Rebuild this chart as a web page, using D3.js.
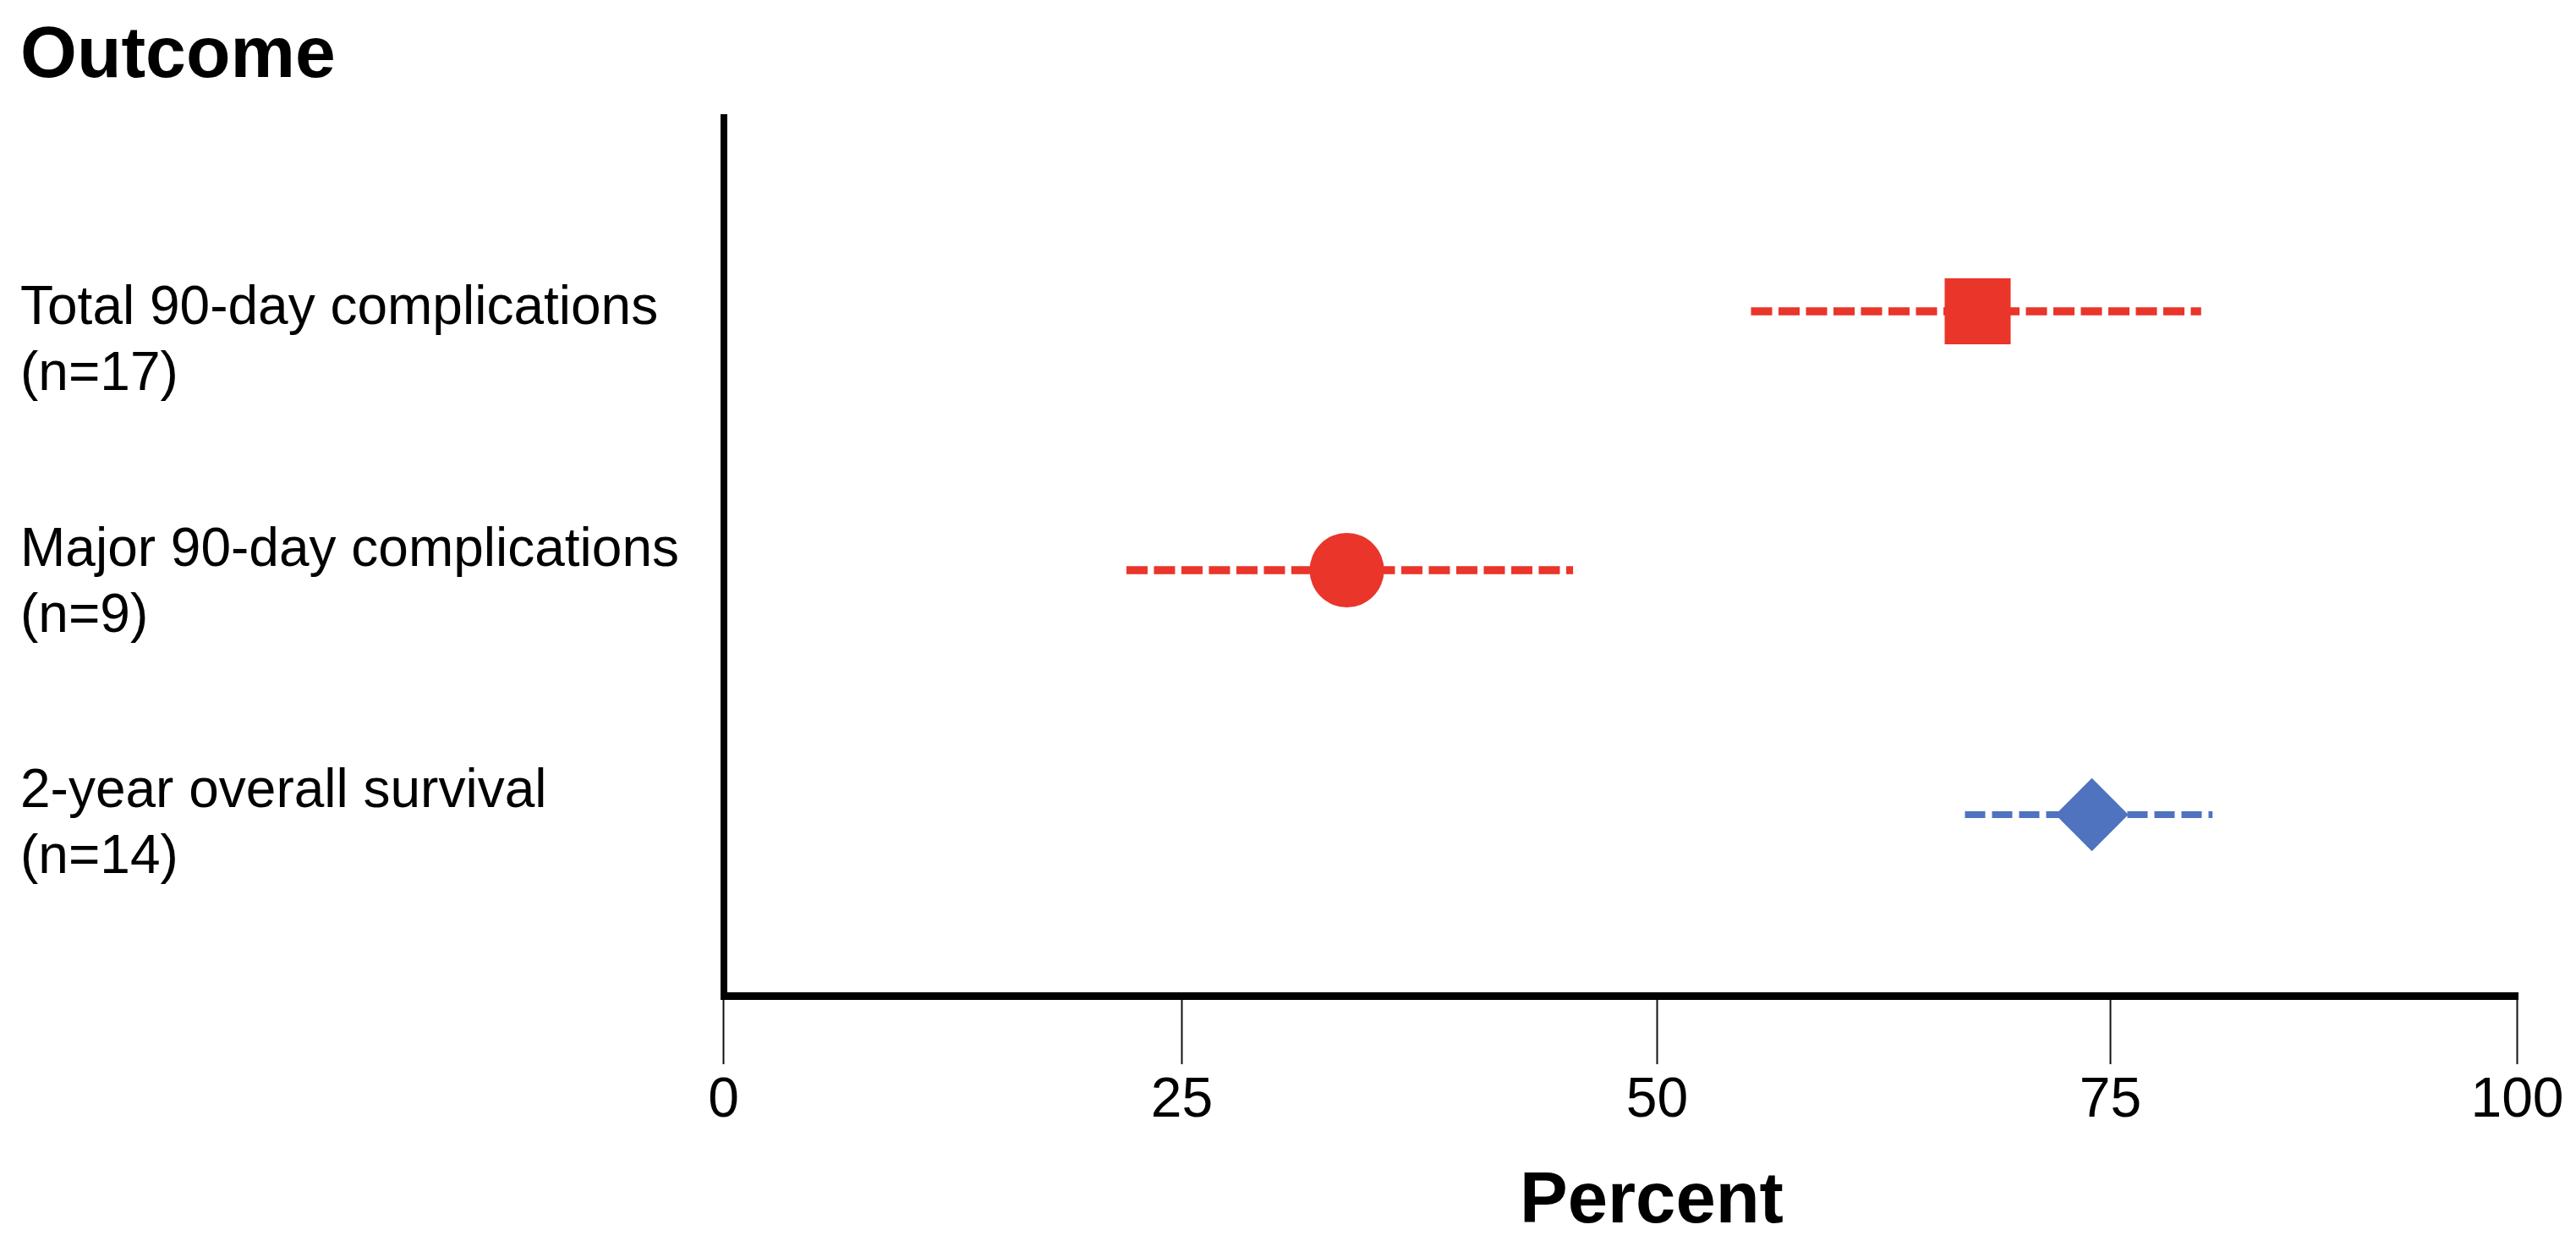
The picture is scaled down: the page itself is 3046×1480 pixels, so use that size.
<!DOCTYPE html>
<html>
<head>
<meta charset="utf-8">
<script src="https://cdn.jsdelivr.net/npm/d3@7"></script>
<style>
  html, body { margin: 0; padding: 0; background: #ffffff; }
  svg { display: block; }
  text { font-family: "Liberation Sans", Arial, Helvetica, sans-serif; fill: #000; }
</style>
</head>
<body>
<script>
// ---------------- data ----------------
const categories   = ["Total 90-day complications", "Major 90-day complications", "2-year overall survival"];
const sampleSizes  = ["(n=17)", "(n=9)", "(n=14)"];
const pointValues  = [67.7, 33.7, 74.0];
const lowerValues  = [55.2, 22.0, 67.0];
const upperValues  = [80.6, 45.6, 81.3];
const markerShapes = ["square", "circle", "diamond"];
const outcomeGroup = ["complication", "complication", "survival"];
const xTickValues  = [0, 25, 50, 75, 100];
const titleText    = "Outcome";
const xAxisTitle   = "Percent";

// ---------------- layout ----------------
const W = 3046, H = 1480;
const svg = d3.select("body").append("svg").attr("width", W).attr("height", H);

// the original figure's tick spacing is hand-drawn (uneven), so map each tick to its drawn position
const x = d3.scaleLinear().domain(xTickValues).range([855, 1397, 1959, 2495, 2976]);
const yRow = d3.scaleOrdinal().domain(categories).range([368, 674, 963]);
const yLabel = d3.scalePoint().domain(categories).range([383, 954]);
const color = d3.scaleOrdinal().domain(["complication", "survival"]).range(["#E9352A", "#4F73BE"]);

const axisTop = 135, axisBottomY = 1182, axisLeftX = 852, axisRightX = 2978;

// title
svg.append("text").attr("x", 24).attr("y", 91)
  .attr("font-size", 86).attr("font-weight", "bold").text(titleText);

// category labels
const labels = svg.append("g").selectAll("text").data(categories).join("text")
  .attr("x", 24).attr("y", d => yLabel(d)).attr("font-size", 64);
labels.append("tspan").attr("x", 24).text(d => d);
labels.append("tspan").attr("x", 24).attr("dy", 78).text((d, i) => sampleSizes[i]);

// x axis ticks via d3 axis
const gx = svg.append("g").attr("transform", `translate(0,${axisBottomY})`)
  .call(d3.axisBottom(x).tickValues(xTickValues).tickSize(76).tickFormat(d3.format("d")));
gx.select(".domain").remove();
gx.selectAll(".tick line").attr("stroke", "#111").attr("stroke-width", 2);
gx.selectAll(".tick text").attr("y", 138).attr("dy", 0)
  .attr("font-size", 66).attr("fill", "#000")
  .style("font-family", '"Liberation Sans", Arial, sans-serif');

// axis lines (thick)
svg.append("line").attr("x1", 856).attr("x2", 856).attr("y1", axisTop).attr("y2", axisBottomY)
  .attr("stroke", "#000").attr("stroke-width", 8);
svg.append("line").attr("x1", axisLeftX).attr("x2", axisRightX).attr("y1", 1177.5).attr("y2", 1177.5)
  .attr("stroke", "#000").attr("stroke-width", 9);

// axis title
svg.append("text").attr("x", 1953).attr("y", 1445).attr("text-anchor", "middle")
  .attr("font-size", 85).attr("font-weight", "bold").text(xAxisTitle);

// confidence interval lines
svg.append("g").selectAll("line").data(categories).join("line")
  .attr("x1", (d, i) => x(lowerValues[i]))
  .attr("x2", (d, i) => x(upperValues[i]))
  .attr("y1", d => yRow(d)).attr("y2", d => yRow(d))
  .attr("stroke", (d, i) => color(outcomeGroup[i]))
  .attr("stroke-width", (d, i) => outcomeGroup[i] === "survival" ? 8 : 9.5)
  .attr("stroke-dasharray", (d, i) => outcomeGroup[i] === "survival" ? "24 8" : "25 7.5");

// markers
const symbolType = { square: d3.symbolSquare, circle: d3.symbolCircle, diamond: d3.symbolSquare };
const symbolSize = { square: 78 * 78, circle: Math.PI * 44 * 44, diamond: 61 * 61 };
svg.append("g").selectAll("path").data(categories).join("path")
  .attr("d", (d, i) => d3.symbol(symbolType[markerShapes[i]], symbolSize[markerShapes[i]])())
  .attr("transform", (d, i) => `translate(${x(pointValues[i])},${yRow(d)})` + (markerShapes[i] === "diamond" ? " rotate(45)" : ""))
  .attr("fill", (d, i) => color(outcomeGroup[i]));
</script>
</body>
</html>
